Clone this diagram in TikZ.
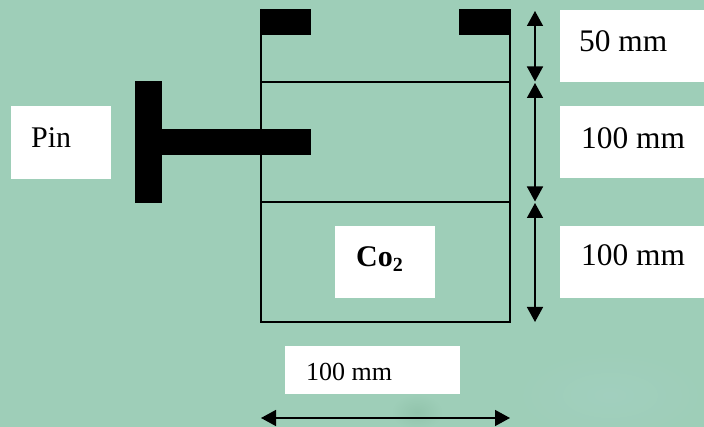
\documentclass[tikz,border=0pt]{standalone}
\usepackage{fontspec}
\setmainfont{Liberation Serif}
\usetikzlibrary{arrows.meta}
\definecolor{bgc}{HTML}{9ECEB8}
\definecolor{smudge}{HTML}{92C4AC}
\definecolor{glow}{HTML}{A1CFBE}
\tikzset{
  x=1pt,y=-1pt,
  lab/.style={text=black,inner sep=0pt,anchor=base west},
  biglab/.style={lab,font=\fontsize{31.4}{33}\selectfont},
  smalllab/.style={lab,font=\fontsize{26}{28}\selectfont},
  solid block/.style={fill=black,draw=none},
  wall/.style={draw=black,line width=1.5pt},
  dimarrow/.style={draw=black,line width=1.5pt,{Triangle[length=15pt,width=16pt]}-{Triangle[length=15pt,width=16pt]}},
}
\begin{document}
\begin{tikzpicture}
\useasboundingbox (0,0) rectangle (704,427);
\fill[bgc] (0,0) rectangle (704,427);
% faint marks in the background
\shade[inner color=glow,outer color=bgc,draw=none] (610,395) ellipse (95 and 45);
\shade[inner color=smudge,outer color=bgc,draw=none] (417,412) ellipse (26 and 18);
% white label boxes
\fill[white] (560,10) rectangle (704,82);
\fill[white] (560,106) rectangle (704,178);
\fill[white] (560,226) rectangle (704,298);
\fill[white] (335,226) rectangle (435,298);
\fill[white] (11,106) rectangle (111,179);
\fill[white] (285,346) rectangle (460,394);
% cylinder
\coordinate (tl) at (261,9);
\coordinate (tr) at (510,9);
\coordinate (bl) at (261,322);
\coordinate (br) at (510,322);
\coordinate (a1l) at (261,82);
\coordinate (a1r) at (510,82);
\coordinate (a2l) at (261,202);
\coordinate (a2r) at (510,202);
\draw[wall,line join=miter] (tl) -- (bl) -- (br) -- (tr);
\draw[wall] (a1l) -- (a1r);
\draw[wall] (a2l) -- (a2r);
% stops and pin
\fill[solid block] (260,9) rectangle (311,35);
\fill[solid block] (459,9) rectangle (511,35);
\fill[solid block] (135,81) rectangle (162,203);
\fill[solid block] (162,129) rectangle (311,155);
% dimension arrows
\coordinate (d0) at (535,11);
\coordinate (d1) at (535,81.5);
\coordinate (d2) at (535,83);
\coordinate (d3) at (535,201.5);
\coordinate (d4) at (535,203);
\coordinate (d5) at (535,322);
\coordinate (dl) at (261,418);
\coordinate (dr) at (510,418);
\draw[dimarrow] (d0) -- (d1);
\draw[dimarrow] (d2) -- (d3);
\draw[dimarrow] (d4) -- (d5);
\draw[dimarrow] (dl) -- (dr);
% labels
\node[biglab] (l50) at (579,52) {50 mm};
\node[biglab] (l100a) at (581,149) {100 mm};
\node[biglab] (l100b) at (581,266) {100 mm};
\node[lab,font=\fontsize{30}{32}\selectfont] (lpin) at (31,148) {Pin};
\node[lab,font=\fontsize{30}{32}\selectfont\bfseries] (lco) at (356,267) {Co\raisebox{-5pt}{\fontsize{20}{22}\selectfont 2}};
\node[smalllab] (lw) at (306,381) {100 mm};
\end{tikzpicture}
\end{document}
